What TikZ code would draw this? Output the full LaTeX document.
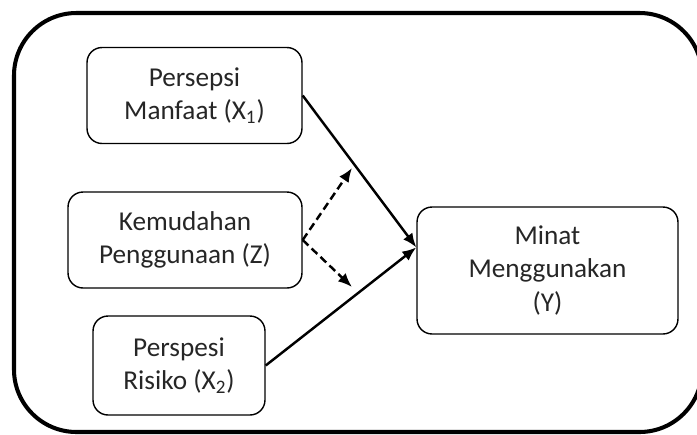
\documentclass[tikz,border=0pt]{standalone}
\usepackage{fontspec}
\setmainfont{Carlito}
\usetikzlibrary{arrows.meta}

\begin{document}
\begin{tikzpicture}[x=0.02cm,y=-0.02cm,
	box/.style={draw,rounded corners=0.3cm,line width=0.8pt,align=center,inner sep=0pt,text=black!85,font=\fontsize{15.5}{19}\selectfont},
	link/.style={->,>={Latex[length=8pt,width=6.5pt]},line width=1.4pt},
	modlink/.style={link,dash pattern=on 4.5pt off 2.5pt}]
	\useasboundingbox (0,0) rectangle (697,434);
	\clip (0,0) rectangle (697,434);
	\draw [line width=2.3pt,rounded corners=1.25cm] (14,13) rectangle (702,432);
	\node[box,minimum width=4.3cm,minimum height=1.92cm] (x1) at (194.5,95.5) {Persepsi\\Manfaat (X\textsubscript{1})};
	\node[box,minimum width=4.68cm,minimum height=1.92cm] (z) at (185,240) {Kemudahan\\Penggunaan (Z)};
	\node[box,minimum width=3.44cm,minimum height=1.98cm] (x2) at (179,365.5) {Perspesi\\Risiko (X\textsubscript{2})};
	\node[box,minimum width=5.22cm,minimum height=2.54cm] (y) at (547.5,270.5) {Minat\\Menggunakan\\(Y)};
	\coordinate (m1) at (352,168);
	\coordinate (m2) at (352,287);
	\draw [link](x1.east)--(y.170);
	\draw [link](x2.east)--(y.170);
	\draw [modlink](z.east)--(m1);
	\draw [modlink](z.east)--(m2);
\end{tikzpicture}
\end{document}
